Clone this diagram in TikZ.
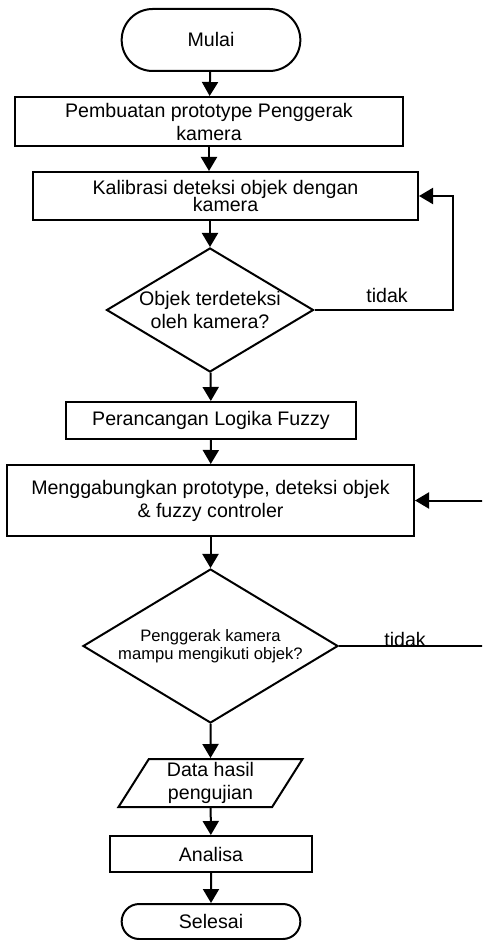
\documentclass[tikz,border=0pt]{standalone}
\usepackage{fontspec}
\setmainfont{Liberation Sans}
\usetikzlibrary{shapes.geometric,shapes.misc,arrows.meta}
\begin{document}
\begin{tikzpicture}[x=0.5pt,y=-0.5pt,line width=1pt,
        font=\fontsize{9.8}{11.5}\selectfont,
        proses/.style={draw,rectangle,align=center,inner sep=0pt},
        terminal/.style={draw,rounded rectangle,align=center,minimum width=96pt},
        keputusan/.style={draw,diamond,aspect=1.67,align=center,inner sep=-2pt},
        dataio/.style={draw,trapezium,trapezium left angle=62.5,trapezium right angle=117.5,
            trapezium stretches=true,align=center,inner sep=0pt},
        panah/.style={-{Triangle[length=7pt,width=8pt]}}]
            \useasboundingbox (0,0) rectangle (482,940);
            \clip (0,0) rectangle (482,940);
            \node[terminal,minimum height=31pt] (mulai) at (211,40) {Mulai};
            \node[proses,minimum width=194pt,minimum height=24.5pt] (buat) at (209,121.5) {Pembuatan prototype Penggerak\\kamera};
            \node[proses,minimum width=192.5pt,minimum height=24pt] (kalib) at (225.5,196) {Kalibrasi deteksi objek dengan\\[-3pt]kamera};
            \node[keputusan,minimum width=103.5pt,minimum height=62pt] (cek1) at (210,310) {Objek terdeteksi\\oleh kamera?};
            \node[proses,minimum width=145pt,minimum height=18.5pt] (fuzzy) at (211,420.5) {Perancangan Logika Fuzzy};
            \node[proses,minimum width=203.5pt,minimum height=35.5pt] (gabung) at (210.5,500.5) {Menggabungkan prototype, deteksi objek\\\& fuzzy controler};
            \node[keputusan,minimum width=127.5pt,minimum height=77pt,font=\fontsize{8.3}{9}\selectfont] (cek2) at (210.5,646) {Penggerak kamera\\mampu mengikuti objek?};
            \node[dataio,minimum width=92.5pt,minimum height=24pt] (hasil) at (210.5,783) {Data hasil\\pengujian};
            \node[proses,minimum width=101pt,minimum height=18pt] (analisa) at (211,854) {Analisa};
            \node[terminal,minimum height=17.5pt] (selesai) at (211,921.5) {Selesai};
            \coordinate (balik1) at (453,310);
            \coordinate (balik2) at (492,646);
            \draw[panah] (mulai) -- (buat);
            \draw[panah] (buat.south) -- (buat.south |- kalib.north);
            \draw[panah] (kalib.south -| cek1.north) -- (cek1.north);
            \draw[panah] (cek1) -- (fuzzy);
            \draw[panah] (fuzzy) -- (gabung);
            \draw[panah] (gabung) -- (cek2);
            \draw[panah] (cek2) -- (hasil);
            \draw[panah] (hasil) -- (analisa);
            \draw[panah] (analisa) -- (selesai);
            \draw[panah] (cek1.east) -- (balik1) |- (kalib.east);
            \draw[panah] (cek2.east) -- (balik2) |- (gabung.east);
            \node[anchor=base] (tidak1) at (387,303) {tidak};
            \node[anchor=base] (tidak2) at (405,646) {tidak};
        \end{tikzpicture}
\end{document}
